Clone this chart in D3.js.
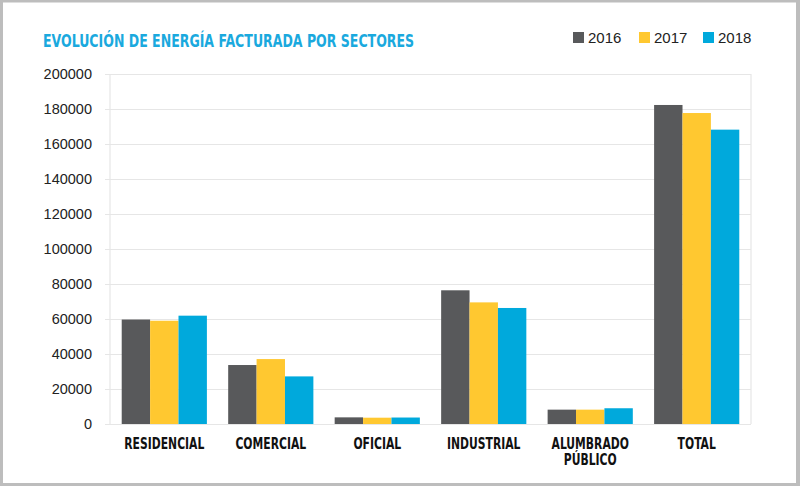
<!DOCTYPE html>
<html><head><meta charset="utf-8">
<script src="https://cdn.jsdelivr.net/npm/d3@7"></script>
<style>
html,body{margin:0;padding:0;background:#fff;}
svg{display:block;}
</style></head>
<body>
<svg id="chart" width="800" height="486"></svg>
<script>
const categories = [["RESIDENCIAL"],["COMERCIAL"],["OFICIAL"],["INDUSTRIAL"],["ALUMBRADO","PÚBLICO"],["TOTAL"]];
const years = ["2016","2017","2018"];
const values2016 = [59700, 33700, 3800, 76400, 8200, 182300];
const values2017 = [59000, 37100, 3600, 69500, 8200, 177700];
const values2018 = [61900, 27200, 3700, 66300, 9000, 168200];
const yTicks = [0,20000,40000,60000,80000,100000,120000,140000,160000,180000,200000];
const colors = ["#58595b","#ffc830","#00a9dc"];
const title = "EVOLUCIÓN DE ENERGÍA FACTURADA POR SECTORES";

(function(){
const series = [values2016, values2017, values2018];
const svg = d3.select("#chart");

// frame
svg.append("rect").attr("x",1.5).attr("y",1).attr("width",796).attr("height",483.5)
  .attr("fill","#fff").attr("stroke","#bdbdbd").attr("stroke-width",3);
svg.append("rect").attr("x",796).attr("y",0).attr("width",4).attr("height",486).attr("fill","#bdbdbd");

const pL = 110, pR = 751, pT = 74, pB = 424;
const x = d3.scaleBand().domain(d3.range(categories.length)).range([pL, pR]).paddingInner(0.2).paddingOuter(0.11);
const xs = d3.scaleBand().domain(d3.range(years.length)).range([0, x.bandwidth()]).padding(0);
const y = d3.scaleLinear().domain([0,200000]).range([pB, pT]);

// gridlines
const gy = svg.append("g").attr("transform",`translate(${pR},0)`);
gy.call(d3.axisLeft(y).tickValues(yTicks).tickSize(pR-pL+5).tickFormat(""));
gy.select(".domain").remove();
gy.selectAll("line").attr("stroke","#e6e6e6").attr("stroke-width",1.2);

// y labels
const gl = svg.append("g").attr("transform",`translate(${pL-5},0)`);
gl.call(d3.axisLeft(y).tickValues(yTicks).tickSize(0).tickPadding(13).tickFormat(d3.format("d")));
gl.select(".domain").remove();
gl.selectAll("text").attr("font-family","'Liberation Sans', Arial, sans-serif").attr("font-size",14.5).attr("fill","#222");

// plot border verticals
svg.append("line").attr("x1",pL).attr("x2",pL).attr("y1",pT).attr("y2",pB).attr("stroke","#e6e6e6").attr("stroke-width",1.2);
svg.append("line").attr("x1",pR).attr("x2",pR).attr("y1",pT).attr("y2",pB).attr("stroke","#e6e6e6").attr("stroke-width",1.2);

// bars
const groups = svg.append("g").selectAll("g").data(categories).join("g")
  .attr("transform",(d,i)=>`translate(${x(i)},0)`);
groups.selectAll("rect").data((d,i)=>series.map((s,k)=>({k, v:s[i]}))).join("rect")
  .attr("x",d=>xs(d.k)).attr("width",xs.bandwidth())
  .attr("y",d=>y(d.v)).attr("height",d=>y(0)-y(d.v))
  .attr("fill",d=>colors[d.k]);

// category labels (condensed)
const catFont = "'DejaVu Sans Condensed', 'Liberation Sans Narrow', sans-serif";
groups.append("text").attr("text-anchor","middle")
  .attr("transform",`translate(${x.bandwidth()/2},0) scale(0.8,1)`)
  .attr("font-family",catFont).attr("font-weight","bold").attr("font-size",15).attr("fill","#111")
  .selectAll("tspan").data(d=>d).join("tspan")
  .attr("x",0).attr("y",(d,j)=>449 + j*16).text(d=>d);

// title
svg.append("text").attr("transform","translate(43,47) scale(0.775,1)").attr("font-family",catFont).attr("font-weight","bold")
  .attr("font-size",18).attr("fill","#1aa9de").text(title);

// legend
const legX = [573, 639, 703];
const leg = svg.append("g").selectAll("g").data(years).join("g").attr("transform",(d,i)=>`translate(${legX[i]},32)`);
leg.append("rect").attr("width",11).attr("height",11).attr("fill",(d,i)=>colors[i]);
leg.append("text").attr("x",15).attr("y",11).attr("font-family","'Liberation Sans', Arial, sans-serif").attr("font-size",15).attr("fill","#222").text(d=>d);
})();
</script>
</body></html>
